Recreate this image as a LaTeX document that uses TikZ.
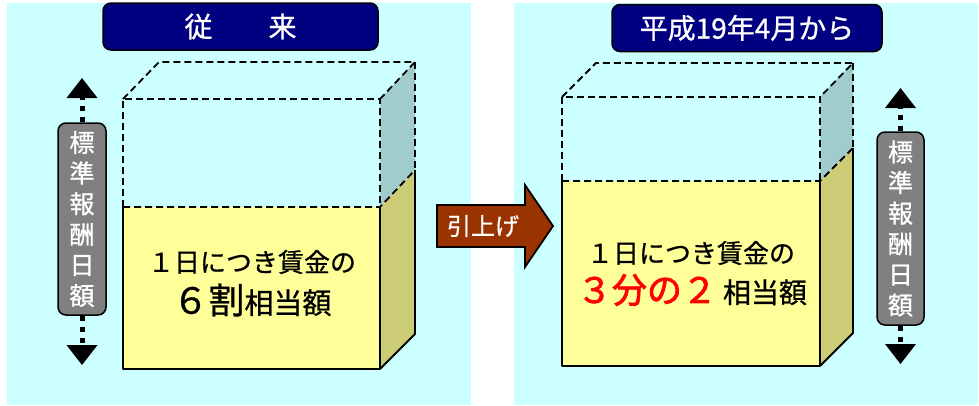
\documentclass[tikz,border=0pt]{standalone}
\usepackage{fontspec}
\newfontfamily\jp[FakeBold=0.8]{Noto Sans CJK JP}
\newfontfamily\jpbold[FakeBold=2]{Noto Sans CJK JP}
\usetikzlibrary{arrows.meta}
\definecolor{bgc}{RGB}{204,255,255}
\definecolor{navyc}{RGB}{0,0,128}
\definecolor{yelc}{RGB}{255,255,153}
\definecolor{sidelowc}{RGB}{204,204,119}
\definecolor{sideupc}{RGB}{160,204,204}
\definecolor{brownc}{RGB}{153,51,0}
\definecolor{grayc}{RGB}{128,128,128}
\begin{document}
\begin{tikzpicture}[x=1pt,y=-1pt,
  titlebox/.style={draw=black,line width=1.5pt,fill=navyc,rounded corners=8pt,minimum width=275pt,minimum height=47pt,text=white,font=\jp\fontsize{28}{28}\selectfont,inner sep=0pt},
  vlabel/.style={draw=black,line width=1.5pt,fill=grayc,rounded corners=8pt,minimum width=48pt,minimum height=192pt,text=white,align=center,font=\jp\fontsize{25}{30.6}\selectfont,inner sep=0pt},
  dsh/.style={line width=1.8pt,dash pattern=on 7pt off 4pt},
  sol/.style={line width=1.8pt,line join=round},
  vdots/.style={line width=5pt,dash pattern=on 5pt off 6pt,-{Triangle[width=31pt,length=20pt,line width=0pt]}},
  btext/.style={font=\jp\fontsize{26}{26}\selectfont,inner sep=0pt}
]
\useasboundingbox (0,0) rectangle (979,405);
\fill[white] (0,0) rectangle (979,405);
% panels
\fill[bgc] (7,3) rectangle (471,405);
\fill[bgc] (514,3) rectangle (978,405);
% titles
\node[titlebox] (t1) at (240.5,26.5) {従　　来};
\node[titlebox,minimum width=270pt] (t2) at (747,28) {平成19年4月から};

% left cuboid
\coordinate (aFTL) at (123,99); \coordinate (aFTR) at (380,99);
\coordinate (aBTL) at (159,62); \coordinate (aBTR) at (415,62);
\coordinate (aFWL) at (123,207); \coordinate (aFWR) at (380,207);
\coordinate (aBWR) at (415,170);
\coordinate (aFBL) at (123,369); \coordinate (aFBR) at (380,369);
\coordinate (aBBR) at (415,334);
\fill[sideupc] (aFTR)--(aBTR)--(aBWR)--(aFWR)--cycle;
\fill[yelc] (aFWL) rectangle (aFBR);
\fill[sidelowc] (aFWR)--(aBWR)--(aBBR)--(aFBR)--cycle;
\draw[dsh] (aFWL)--(aFTL)--(aFTR)--(aFWR);
\draw[dsh] (aFTL)--(aBTL)--(aBTR)--(aFTR);
\draw[dsh] (aBTR)--(aBWR);
\draw[dsh] (aFWL)--(aFWR)--(aBWR);
\draw[sol] (aFWL)--(aFBL)--(aFBR)--(aFWR);
\draw[sol] (aFBR)--(aBBR)--(aBWR);
\node[btext] (a1) at (252,262) {１日につき賃金の};
\node[inner sep=0pt,font=\jp] (a2) at (252,300) {{\fontsize{36}{36}\selectfont ６割}{\fontsize{29}{29}\selectfont 相当額}};

% right cuboid
\coordinate (bFTL) at (562,97); \coordinate (bFTR) at (820,97);
\coordinate (bBTL) at (596,63); \coordinate (bBTR) at (853,63);
\coordinate (bFWL) at (562,181); \coordinate (bFWR) at (820,181);
\coordinate (bBWR) at (853,148);
\coordinate (bFBL) at (562,366); \coordinate (bFBR) at (820,366);
\coordinate (bBBR) at (853,333);
\fill[sideupc] (bFTR)--(bBTR)--(bBWR)--(bFWR)--cycle;
\fill[yelc] (bFWL) rectangle (bFBR);
\fill[sidelowc] (bFWR)--(bBWR)--(bBBR)--(bFBR)--cycle;
\draw[dsh] (bFWL)--(bFTL)--(bFTR)--(bFWR);
\draw[dsh] (bFTL)--(bBTL)--(bBTR)--(bFTR);
\draw[dsh] (bBTR)--(bBWR);
\draw[dsh] (bFWL)--(bFWR)--(bBWR);
\draw[sol] (bFWL)--(bFBL)--(bFBR)--(bFWR);
\draw[sol] (bFBR)--(bBBR)--(bBWR);
\node[btext] (b1) at (691,253) {１日につき賃金の};
\node[inner sep=0pt,font=\jp] (b2) at (692,290) {{\jpbold\fontsize{35}{35}\selectfont\color{red}３分の２}\hspace{6pt}{\fontsize{28}{28}\selectfont 相当額}};

% raise arrow
\draw[sol,fill=brownc,line join=miter] (437,205)--(525,205)--(525,185)--(553,226)--(525,267)--(525,247)--(437,247)--cycle;
\node[text=white,font=\jp\fontsize{24}{24}\selectfont,inner sep=0pt] (up) at (483,226) {引上げ};

% left marker
\node[vlabel] (l1) at (82,219) {標\\準\\報\\酬\\日\\額};
\coordinate (l1top) at (82,78);
\coordinate (l1bot) at (82,365);
\draw[vdots] (l1.north) -- (l1top);
\draw[vdots] (l1.south) -- (l1bot);

% right marker
\node[vlabel,minimum width=47pt,minimum height=193pt] (r1) at (900.5,228.5) {標\\準\\報\\酬\\日\\額};
\coordinate (r1top) at (900.5,88);
\coordinate (r1bot) at (900.5,364);
\draw[vdots] (r1.north) -- (r1top);
\draw[vdots] (r1.south) -- (r1bot);
\end{tikzpicture}
\end{document}
